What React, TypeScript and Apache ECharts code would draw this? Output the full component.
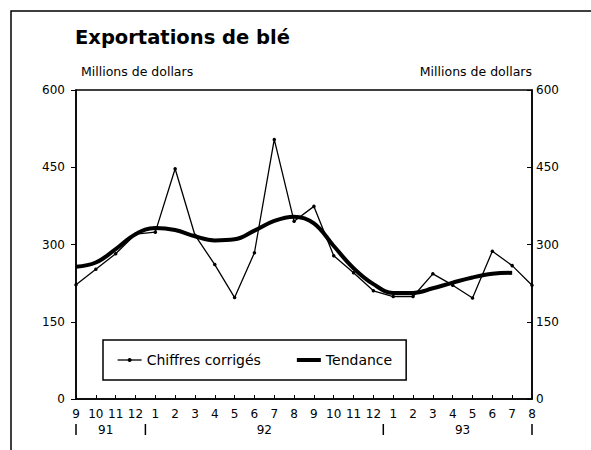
import React, { useEffect, useRef } from "react";
import * as echarts from "echarts";

const months = ["9","10","11","12","1","2","3","4","5","6","7","8","9","10","11","12","1","2","3","4","5","6","7","8"];
const chiffres = [222,252,282,320,324,447,318,261,197,284,504,345,374,278,245,210,199,199,243,221,196,287,259,221];
const tendance = [257,265,291,320,332,328,316,308,310,327,346,354,341,297,254,223,206,206,215,226,236,243,245,null];
const yearLabels = ["91","92","93"];
const yearStart = [0,4,16];
const yearEnd = [3,15,23];

const FONT = "DejaVu Sans";

export default function App() {
  const ref = useRef<HTMLDivElement>(null);
  useEffect(() => {
    document.body.style.margin = "0";
    const chart = echarts.init(ref.current!, null, { renderer: "svg" });
    const option: any = {
      animation: false,
      backgroundColor: "#fff",
      textStyle: { fontFamily: FONT, color: "#000" },
      title: {
        text: "Exportations de blé",
        left: 75,
        top: 27,
        padding: 0,
        textStyle: { fontFamily: FONT, fontSize: 19.5, fontWeight: "bold", color: "#000" },
      },
      grid: { left: 76, right: 59, top: 90, bottom: 51, show: true, borderColor: "#000", borderWidth: 1.5 },
      legend: {
        left: 103,
        top: 340,
        orient: "horizontal",
        borderColor: "#000",
        borderWidth: 1.5,
        padding: [13, 14, 13, 14],
        itemWidth: 24,
        itemHeight: 5,
        itemGap: 34,
        textStyle: { fontFamily: FONT, fontSize: 14, color: "#000" },
        data: [
          { name: "Chiffres corrigés", lineStyle: { width: 1.3 } },
          { name: "Tendance", itemStyle: { opacity: 0 }, lineStyle: { width: 4 } },
        ],
      },
      xAxis: {
        type: "category",
        data: months,
        boundaryGap: false,
        axisLine: { lineStyle: { color: "#000", width: 1.5 } },
        axisTick: { inside: true, length: 4, lineStyle: { color: "#000" } },
        axisLabel: { color: "#000", fontFamily: FONT, fontSize: 12, margin: 9, interval: 0 },
      },
      yAxis: [
        {
          type: "value", min: 0, max: 600, interval: 150, position: "left",
          name: "Millions de dollars", nameLocation: "end", nameGap: 12,
          nameTextStyle: { align: "left", fontFamily: FONT, fontSize: 12.5, color: "#000", padding: [0, 0, 0, 5] },
          axisLine: { show: true, lineStyle: { color: "#000", width: 1.5 } },
          axisTick: { show: true, inside: false, length: 5, lineStyle: { color: "#000" } },
          axisLabel: { color: "#000", fontFamily: FONT, fontSize: 12, margin: 11 },
          splitLine: { show: false },
        },
        {
          type: "value", min: 0, max: 600, interval: 150, position: "right",
          name: "Millions de dollars", nameLocation: "end", nameGap: 12,
          nameTextStyle: { align: "right", fontFamily: FONT, fontSize: 12.5, color: "#000" },
          axisLine: { show: true, lineStyle: { color: "#000", width: 1.5 } },
          axisTick: { show: true, inside: true, length: 5, lineStyle: { color: "#000" } },
          axisLabel: { color: "#000", fontFamily: FONT, fontSize: 12, margin: 4 },
          splitLine: { show: false },
        },
      ],
      series: [
        {
          name: "Chiffres corrigés",
          type: "line",
          data: chiffres,
          symbol: "circle",
          symbolSize: 3.5,
          itemStyle: { color: "#000" },
          lineStyle: { color: "#000", width: 1.3 },
          z: 3,
        },
        {
          name: "Tendance",
          type: "line",
          data: tendance,
          smooth: 0.4,
          symbol: "none",
          itemStyle: { color: "#000" },
          lineStyle: { color: "#000", width: 4 },
          z: 2,
        },
      ],
    };
    chart.setOption(option);

    const px = (i: number) => chart.convertToPixel({ xAxisIndex: 0 }, i) as number;
    const graphics: any[] = [
      { type: "rect", shape: { x: 11, y: 11, width: 620, height: 520 }, style: { fill: "none", stroke: "#000", lineWidth: 1.5 }, silent: true },
    ];
    const seps = new Set<number>();
    yearLabels.forEach((lab, k) => {
      const a = yearStart[k];
      const b = yearEnd[k];
      const xa = a === 0 ? px(0) : (px(a - 1) + px(a)) / 2;
      const xb = b === months.length - 1 ? px(b) : (px(b) + px(b + 1)) / 2;
      seps.add(Math.round(xa * 10) / 10);
      seps.add(Math.round(xb * 10) / 10);
      graphics.push({
        type: "text",
        style: { text: lab, x: (px(a) + px(b)) / 2, y: 430, align: "center", verticalAlign: "middle", font: `12px '${FONT}'`, fill: "#000" },
      });
    });
    Array.from(seps).forEach((x) => {
      graphics.push({ type: "line", shape: { x1: x, y1: 424, x2: x, y2: 435 }, style: { stroke: "#000", lineWidth: 1.5 } });
    });
    chart.setOption({ graphic: graphics });

    return () => chart.dispose();
  }, []);
  return <div ref={ref} style={{ width: 591, height: 450 }} />;
}
